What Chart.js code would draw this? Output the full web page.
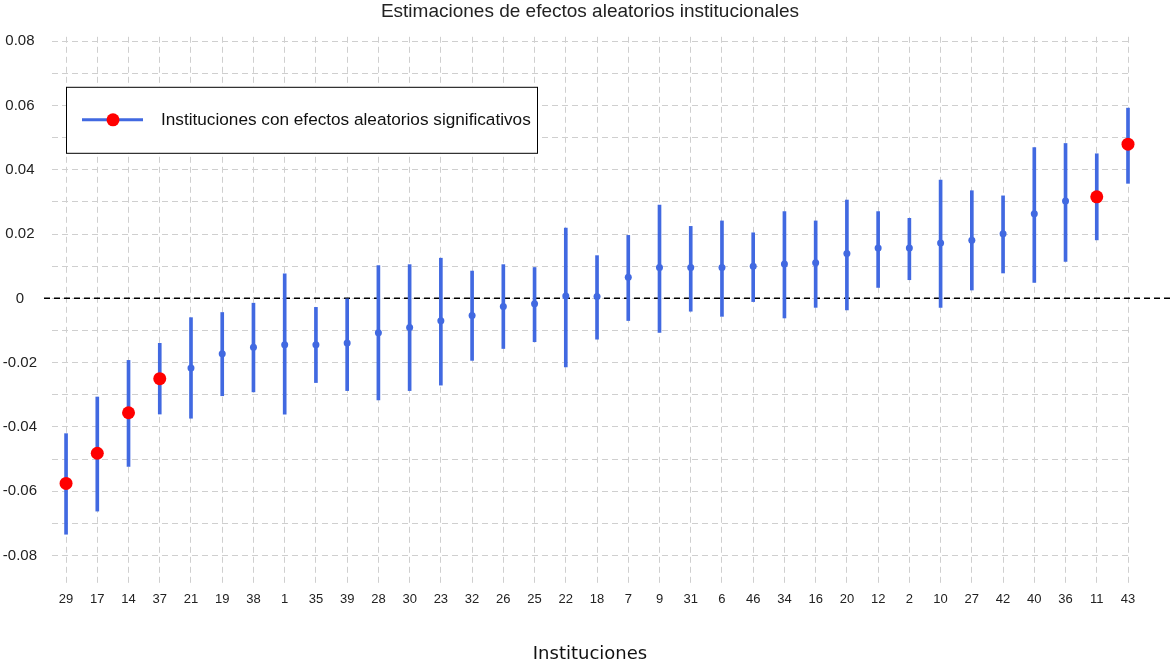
<!DOCTYPE html>
<html>
<head>
<meta charset="utf-8">
<script src="https://cdn.jsdelivr.net/npm/chart.js@4.4.1/dist/chart.umd.min.js"></script>
<style>
html,body{margin:0;padding:0;background:#ffffff;}
#wrap{width:1172px;height:665px;position:relative;}
</style>
</head>
<body>
<div id="wrap"><canvas id="c"></canvas></div>
<script>
const TITLE = 'Estimaciones de efectos aleatorios institucionales';
const X_TITLE = 'Instituciones';
const LEGEND_LABEL = 'Instituciones con efectos aleatorios significativos';

const CATEGORIES = ['29','17','14','37','21','19','38','1','35','39','28','30','23','32','26','25','22','18','7','9','31','6','46','34','16','20','12','2','10','27','42','40','36','11','43'];
const ESTIMATES = [-0.0576,-0.0482,-0.0356,-0.0250,-0.0217,-0.0172,-0.0152,-0.0144,-0.0144,-0.0139,-0.0107,-0.0091,-0.0070,-0.0053,-0.0025,-0.0017,0.0007,0.0006,0.0066,0.0096,0.0096,0.0096,0.0100,0.0107,0.0111,0.0140,0.0157,0.0157,0.0172,0.0181,0.0201,0.0263,0.0303,0.0316,0.0480];
const LOWER = [-0.0734,-0.0662,-0.0523,-0.0360,-0.0373,-0.0303,-0.0291,-0.0360,-0.0262,-0.0287,-0.0316,-0.0287,-0.0270,-0.0193,-0.0156,-0.0135,-0.0213,-0.0127,-0.0069,-0.0106,-0.0040,-0.0056,-0.0010,-0.0061,-0.0028,-0.0036,0.0034,0.0058,-0.0028,0.0026,0.0079,0.0050,0.0115,0.0182,0.0358];
const UPPER = [-0.0421,-0.0307,-0.0193,-0.0140,-0.0060,-0.0044,-0.0015,0.0076,-0.0028,0.0000,0.0102,0.0105,0.0125,0.0085,0.0105,0.0096,0.0219,0.0133,0.0196,0.0290,0.0224,0.0241,0.0204,0.0270,0.0241,0.0306,0.0270,0.0249,0.0368,0.0335,0.0319,0.0469,0.0482,0.0450,0.0592];
const SIGNIFICANT = ['29','17','14','37','11','43'];

const Y_TICK_VALUES = [-0.08,-0.07,-0.06,-0.05,-0.04,-0.03,-0.02,-0.01,0,0.01,0.02,0.03,0.04,0.05,0.06,0.07,0.08];
const Y_TICK_LABELS = ['-0.08','','-0.06','','-0.04','','-0.02','','0','','0.02','','0.04','','0.06','','0.08'];

const BLUE = '#4169E1';
const RED = '#FF0000';
const GRID = '#cfcfcf';
const FONT = '"Liberation Sans", Arial, sans-serif';

const intervalData = CATEGORIES.map((c, i) => ({x: i, y: [LOWER[i], UPPER[i]]}));
const plainPoints = [];
const sigPoints = [];
CATEGORIES.forEach((c, i) => {
  if (SIGNIFICANT.includes(c)) sigPoints.push({x: i, y: ESTIMATES[i]});
  else plainPoints.push({x: i, y: ESTIMATES[i]});
});

const overlay = {
  id: 'overlay',
  beforeDatasetsDraw(chart) {
    const ctx = chart.ctx;
    const y = chart.scales.y.getPixelForValue(0);
    ctx.save();
    ctx.strokeStyle = '#000000';
    ctx.lineWidth = 1.5;
    ctx.setLineDash([6, 4]);
    ctx.beginPath();
    ctx.moveTo(chart.chartArea.left - 8, y);
    ctx.lineTo(chart.width, y);
    ctx.stroke();
    ctx.restore();
  },
  afterDatasetsDraw(chart) {
    const ctx = chart.ctx;
    const a = chart.chartArea;
    const bx = a.left + 14, by = a.top + 50, bw = 471, bh = 66;
    ctx.save();
    ctx.fillStyle = '#ffffff';
    ctx.fillRect(bx, by, bw, bh);
    ctx.strokeStyle = '#000000';
    ctx.lineWidth = 1;
    ctx.strokeRect(bx + 0.5, by + 0.5, bw, bh);
    const cy = by + bh / 2;
    ctx.strokeStyle = BLUE;
    ctx.lineWidth = 3;
    ctx.beginPath();
    ctx.moveTo(bx + 16, cy);
    ctx.lineTo(bx + 77, cy);
    ctx.stroke();
    ctx.fillStyle = RED;
    ctx.beginPath();
    ctx.arc(bx + 47, cy, 6.5, 0, Math.PI * 2);
    ctx.fill();
    ctx.fillStyle = '#111111';
    ctx.font = '17.2px ' + FONT;
    ctx.textBaseline = 'middle';
    ctx.textAlign = 'left';
    ctx.fillText(LEGEND_LABEL, bx + 95, cy);
    ctx.restore();
  }
};

new Chart(document.getElementById('c'), {
  type: 'bar',
  data: {
    datasets: [
      {type: 'line', data: sigPoints, showLine: false, pointRadius: 6.5, pointBackgroundColor: RED, pointBorderWidth: 0, pointBorderColor: RED, order: 1, clip: false},
      {type: 'line', data: plainPoints, showLine: false, pointRadius: 3.5, pointBackgroundColor: BLUE, pointBorderWidth: 0, pointBorderColor: BLUE, order: 2, clip: false},
      {type: 'bar', data: intervalData, backgroundColor: BLUE, borderWidth: 0, barThickness: 3, grouped: false, order: 3, clip: false}
    ]
  },
  options: {
    responsive: true,
    maintainAspectRatio: false,
    animation: false,
    layout: {padding: {left: 0, right: 44, top: 0, bottom: 0}},
    plugins: {
      legend: {display: false},
      tooltip: {enabled: false},
      title: {
        display: true, text: TITLE, fullSize: false,
        color: '#222222', font: {family: FONT, size: 19, weight: 'normal'},
        padding: {top: 0, bottom: 14}
      }
    },
    scales: {
      x: {
        type: 'linear', min: -0.45, max: CATEGORIES.length - 1, offset: false,
        afterBuildTicks(scale) { scale.ticks = CATEGORIES.map((c, i) => ({value: i})); },
        afterFit(scale) { scale.height = 80; },
        grid: {color: GRID, lineWidth: 1, drawTicks: false, offset: false},
        border: {display: false, dash: [6, 4]},
        ticks: {
          autoSkip: false, maxRotation: 0, padding: 7,
          color: '#222222', font: {family: FONT, size: 13},
          callback: (v) => CATEGORIES[v]
        },
        title: {
          display: true, text: X_TITLE, color: '#111111',
          font: {family: '"DejaVu Sans", sans-serif', size: 18},
          padding: {top: 0, bottom: 0}
        }
      },
      y: {
        type: 'linear', min: -0.0892, max: 0.0814,
        afterBuildTicks(scale) { scale.ticks = Y_TICK_VALUES.map(v => ({value: v})); },
        afterFit(scale) { scale.width = 52; },
        grid: {color: GRID, lineWidth: 1, drawTicks: false},
        border: {display: false, dash: [6, 4]},
        ticks: {
          crossAlign: 'center', padding: 15,
          color: '#222222', font: {family: FONT, size: 15},
          callback: (v, i) => Y_TICK_LABELS[i]
        }
      }
    }
  },
  plugins: [overlay]
});
</script>
</body>
</html>
